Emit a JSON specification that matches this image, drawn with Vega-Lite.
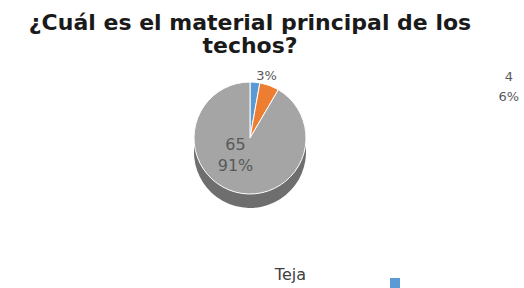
{
  "$schema": "https://vega.github.io/schema/vega-lite/v6.json",
  "width": 500,
  "height": 152,
  "autosize": "none",
  "padding": {"top": 62, "left": 0, "right": 24, "bottom": 74},
  "background": "white",
  "title": {
    "text": ["¿Cuál es el material principal de los", "techos?"],
    "font": "DejaVu Sans",
    "fontSize": 22,
    "fontWeight": "bold",
    "color": "#1a1a1a",
    "lineHeight": 23,
    "anchor": "middle",
    "frame": "group"
  },
  "data": {
    "values": [
      {"material": "Teja", "cantidad": 2, "orden": 1, "etiqueta": "3%"},
      {"material": "Lámina", "cantidad": 4, "orden": 2, "etiqueta": "4\n6%"},
      {"material": "Losa", "cantidad": 65, "orden": 3, "etiqueta": "65\n91%"}
    ]
  },
  "encoding": {
    "theta": {"field": "cantidad", "type": "quantitative", "stack": true},
    "order": {"field": "orden", "type": "quantitative"}
  },
  "layer": [
    {
      "mark": {"type": "arc", "radius": 56, "yOffset": 14, "color": "#6e6e6e"}
    },
    {
      "mark": {"type": "arc", "radius": 56, "stroke": "white", "strokeWidth": 1},
      "encoding": {
        "color": {
          "field": "material",
          "type": "nominal",
          "scale": {"domain": ["Teja", "Lámina", "Losa"], "range": ["#5B9BD5", "#ED7D31", "#A5A5A5"]},
          "legend": {
            "values": ["Teja"],
            "title": null,
            "orient": "none",
            "legendX": 387,
            "legendY": 213,
            "padding": 0,
            "symbolType": "square",
            "symbolSize": 100,
            "symbolStrokeWidth": 0,
            "labelOffset": -97,
            "labelAlign": "right",
            "labelBaseline": "bottom",
            "labelFont": "DejaVu Sans",
            "labelFontSize": 16,
            "labelColor": "#404040"
          }
        }
      }
    },
    {
      "mark": {"type": "text", "radius": 21, "dx": -9, "dy": -13, "font": "DejaVu Sans", "fontSize": 16, "color": "#595959", "lineBreak": "\n", "lineHeight": 21},
      "encoding": {
        "text": {"condition": {"test": "datum.material === 'Losa'", "field": "etiqueta"}, "value": ""}
      }
    },
    {
      "mark": {"type": "text", "radius": 62, "dx": 11, "font": "DejaVu Sans", "fontSize": 13, "color": "#595959"},
      "encoding": {
        "text": {"condition": {"test": "datum.material === 'Teja'", "field": "etiqueta"}, "value": ""}
      }
    },
    {
      "mark": {"type": "text", "radius": 60, "dx": 238, "dy": -5, "font": "DejaVu Sans", "fontSize": 13, "color": "#595959", "lineBreak": "\n", "lineHeight": 20},
      "encoding": {
        "text": {"condition": {"test": "datum.material === 'Lámina'", "field": "etiqueta"}, "value": ""}
      }
    }
  ],
  "config": {"view": {"stroke": null}}
}
